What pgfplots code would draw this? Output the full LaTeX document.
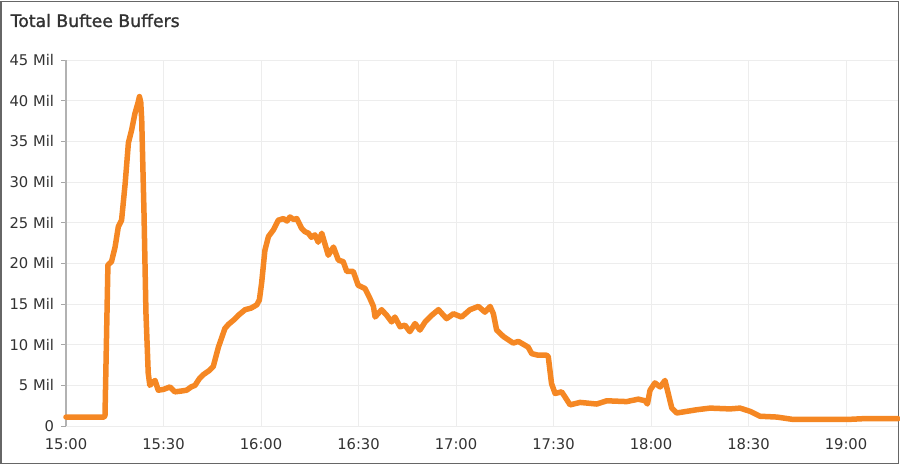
\documentclass[border=0pt]{standalone}
\usepackage{fontspec}
\setmainfont{DejaVu Sans}
\newfontfamily\titlefont[FakeBold=1.4]{DejaVu Sans}
\usepackage{pgfplots}
\pgfplotsset{compat=1.18}
\definecolor{lineorange}{RGB}{245,135,35}
\definecolor{txt}{RGB}{50,50,50}
\begin{document}
\begin{tikzpicture}
\useasboundingbox (0,0) rectangle (900bp,464bp);
\draw[black!60, line width=1.5bp] (0.75bp,0.75bp) rectangle (898.5bp,462.5bp);
\node[anchor=base west, inner sep=0pt, text=txt] at (10.5bp,437bp) {\titlefont\fontsize{17.3}{20}\selectfont Total Buftee Buffers};
\begin{axis}[
  at={(66bp,38bp)}, anchor=south west,
  scale only axis, width=832bp, height=366bp,
  xmin=0, xmax=256, ymin=0, ymax=45,
  axis lines=left,
  axis line style={-},
  x axis line style={draw=none},
  y axis line style={draw=black!30, line width=1.3bp},
  xtick={0,30,60,90,120,150,180,210,240},
  xticklabels={15:00,15:30,16:00,16:30,17:00,17:30,18:00,18:30,19:00},
  ytick={0,5,...,45},
  yticklabels={0,5 Mil,10 Mil,15 Mil,20 Mil,25 Mil,30 Mil,35 Mil,40 Mil,45 Mil},
  tick align=outside,
  major tick length=5bp,
  xtick style={draw=none},
  ytick style={draw=black!35, line width=0.8bp},
  grid=major,
  grid style={draw=black!7, line width=0.8bp},
  ticklabel style={font=\fontsize{14.8}{16}\selectfont, text=txt},
  yticklabel style={xshift=-3.5bp},
  xticklabel style={yshift=-4bp},
  clip=false,
]
\addplot[lineorange, line width=5.5bp, line join=round, line cap=round] coordinates {
(0,1.1) (5,1.1) (11.7,1.1) (12.0,1.3) (12.9,19.8) (14.0,20.2) (15.1,22.0) (16.1,24.5)
(17.1,25.3) (18.2,29.8) (19.2,34.8) (20.2,36.4) (21.2,38.4) (22.2,39.8) (22.6,40.5)
(23.0,39.8) (23.3,37.6) (24.0,26.2) (24.6,13.9) (25.3,6.5) (25.8,5.0) (26.5,5.3)
(27.4,5.6) (28.4,4.4) (30.0,4.5) (32.0,4.8) (33.5,4.2) (35.5,4.3) (37.1,4.4) (38.5,4.8)
(39.7,5.0) (41.0,5.8) (42.2,6.3) (44.0,6.8) (45.3,7.3) (46.9,9.7) (48.9,12.0) (50.0,12.5)
(51.5,13.0) (53.0,13.6) (55.1,14.3) (57.0,14.5) (58.7,14.9) (59.5,15.5) (60.2,17.6)
(61.2,21.6) (62.3,23.3) (63.8,24.1) (65.3,25.3) (66.9,25.5) (68.0,25.2) (68.9,25.7)
(70.0,25.4) (71.0,25.5) (72.5,24.3) (73.5,23.9) (74.6,23.7) (75.5,23.2) (76.6,23.5)
(77.6,22.6) (78.7,23.7) (80.7,21.0) (82.3,22.0) (83.8,20.4) (85.3,20.2) (86.4,19.0)
(88.4,19.0) (89.9,17.3) (92.0,16.9) (93.5,15.7) (94.6,14.7) (95.1,13.4) (97.1,14.3)
(98.7,13.6) (100.2,12.8) (101.2,13.4) (102.8,12.2) (104.3,12.4) (105.8,11.6) (107.4,12.6)
(108.9,11.8) (110.5,12.8) (112.5,13.6) (114.6,14.3) (117.1,13.2) (119.2,13.8) (121.7,13.4)
(124.3,14.3) (126.9,14.7) (128.9,14.0) (130.5,14.7) (131.5,13.8) (132.5,11.8) (134.6,11.0)
(137.6,10.2) (139.2,10.4) (142.2,9.7) (143.3,8.9) (145.3,8.7) (147.9,8.7) (148.4,8.5)
(149.4,5.2) (150.5,4.0) (152.5,4.2) (153.5,3.6) (155.1,2.6) (158.2,2.9) (163.3,2.7)
(166.4,3.1) (172.5,3.0) (176.1,3.3) (178.2,3.1) (178.9,2.7) (179.7,4.4) (181.2,5.3)
(182.8,4.8) (184.3,5.6) (185.3,4.0) (186.4,2.2) (187.9,1.6) (191.0,1.8) (194.1,2.0)
(198.2,2.2) (204.3,2.1) (207.4,2.2) (210.5,1.8) (213.5,1.2) (218.7,1.1) (223.8,0.8)
(240.2,0.8) (245.3,0.9) (256,0.9)
};
\end{axis}
\end{tikzpicture}
\end{document}
